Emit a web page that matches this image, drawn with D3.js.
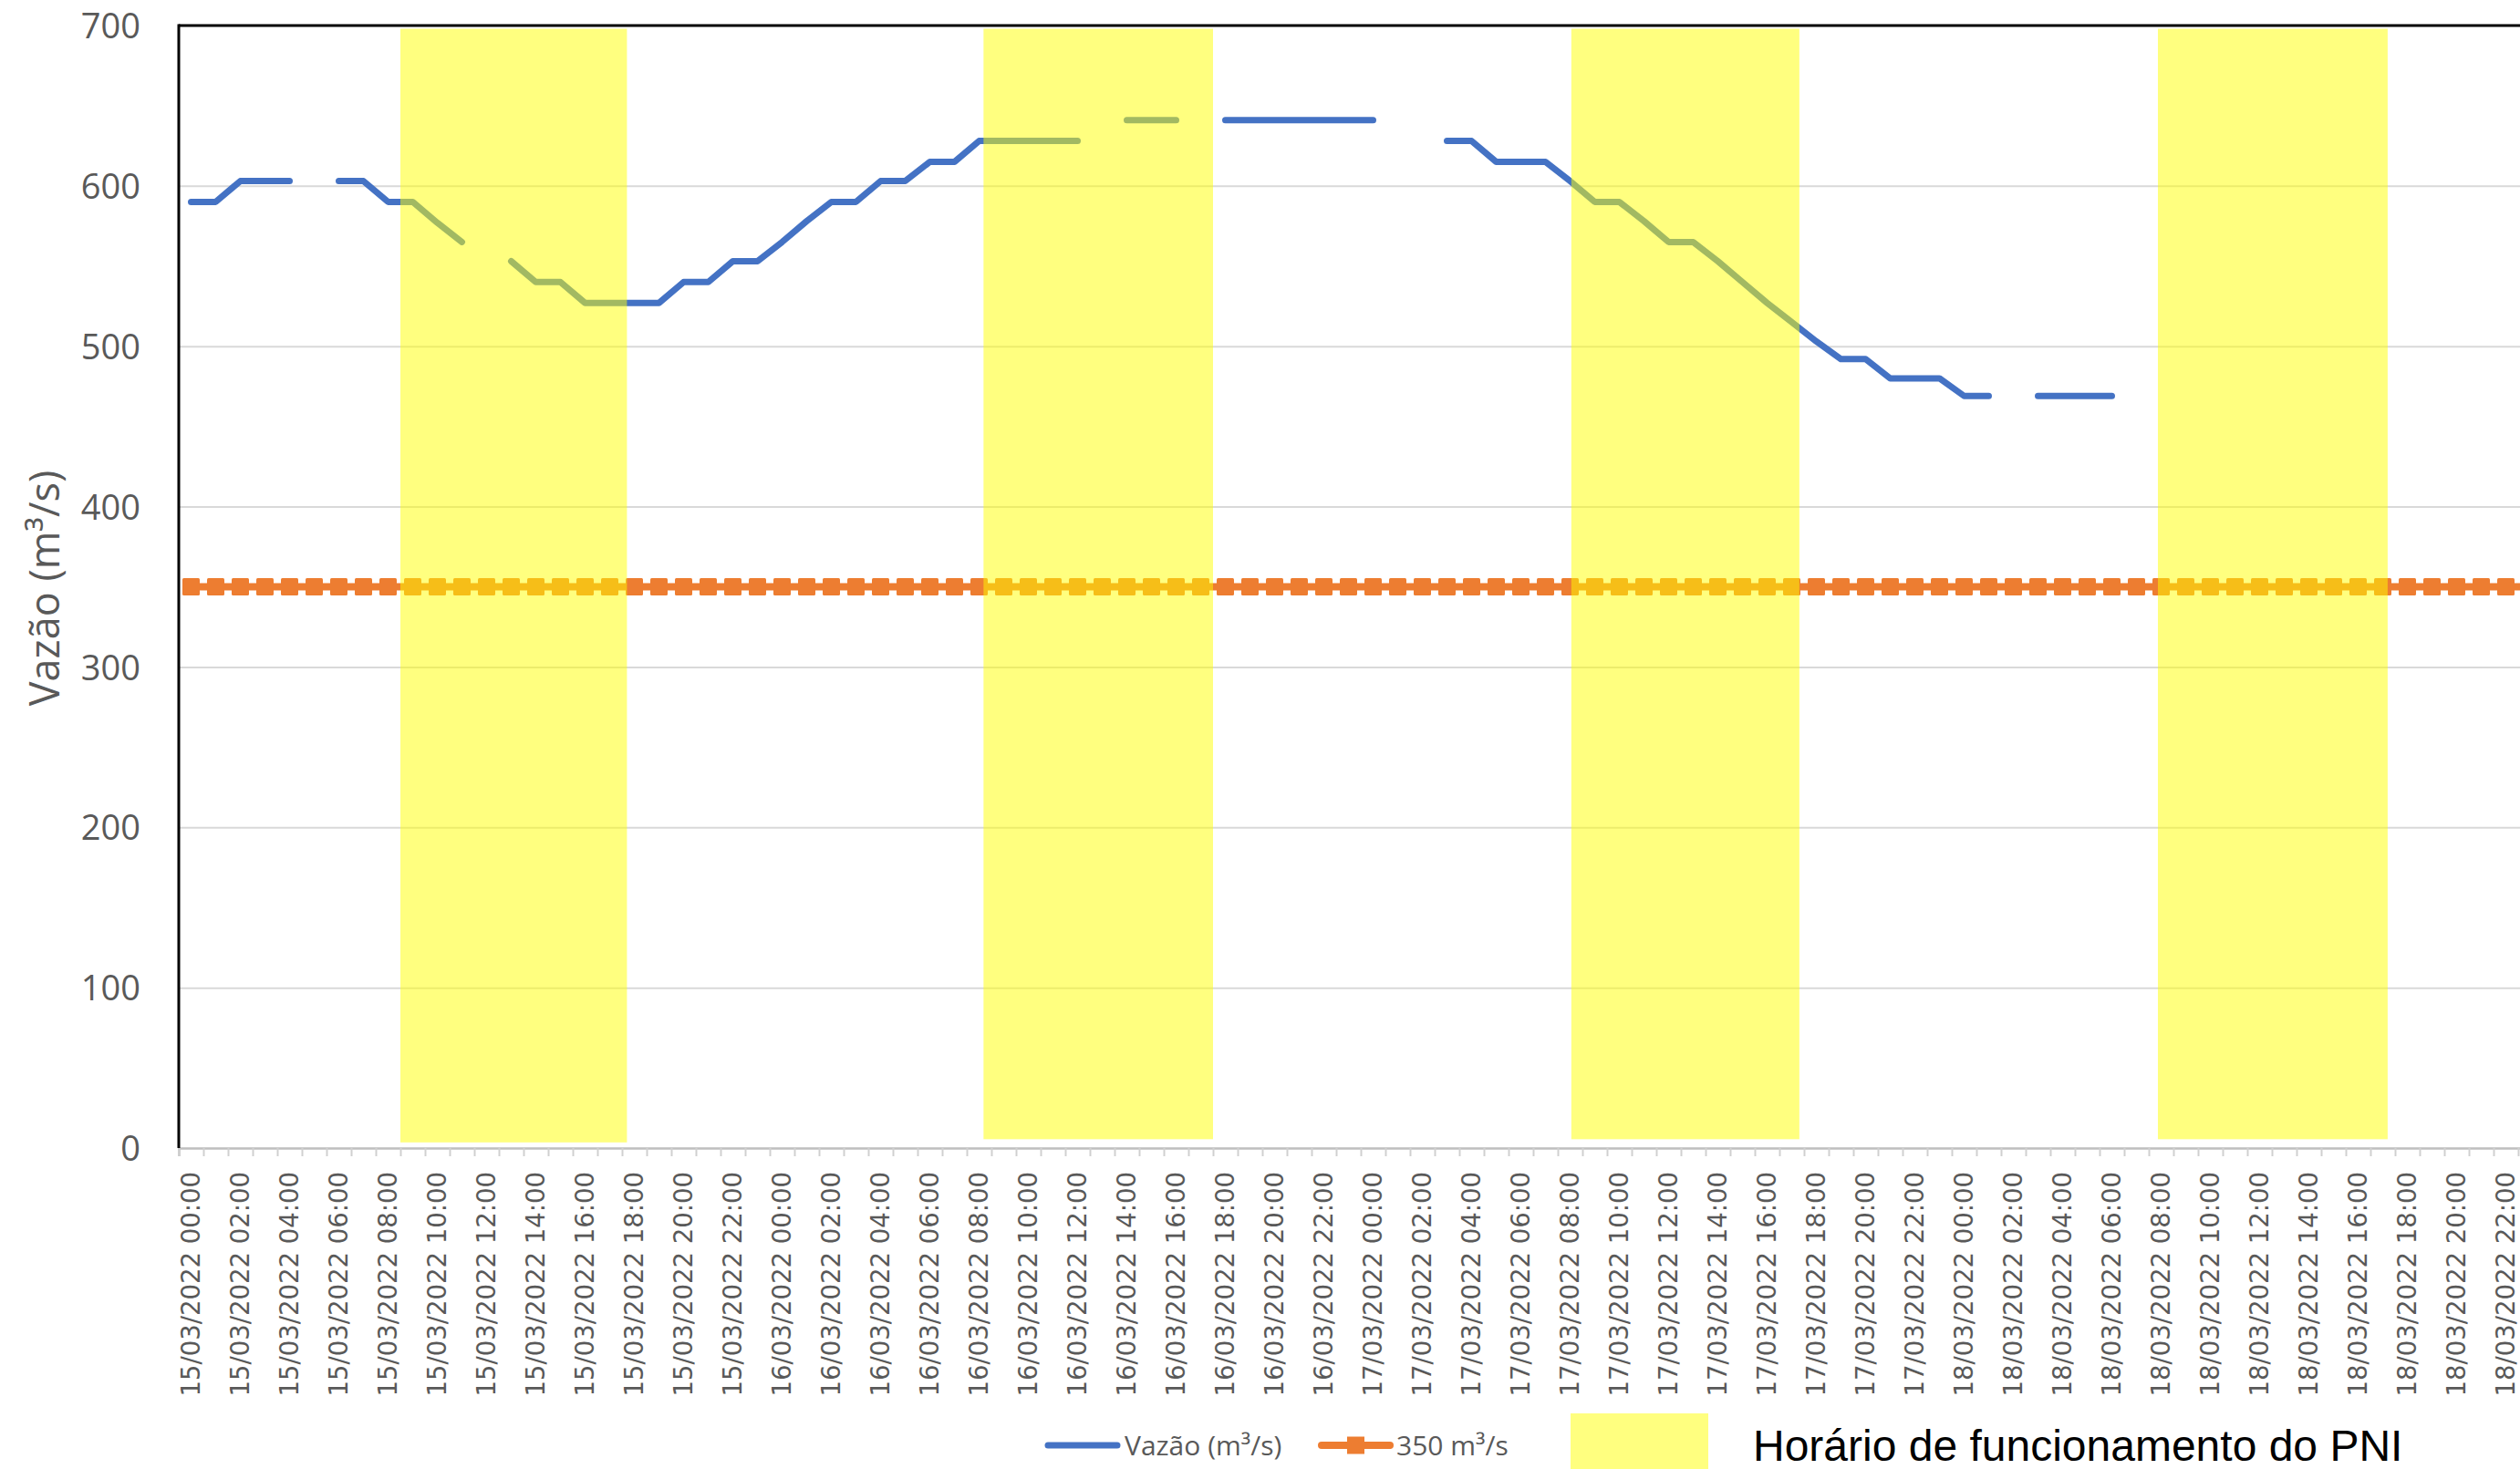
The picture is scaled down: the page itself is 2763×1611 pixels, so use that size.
<!DOCTYPE html>
<html>
<head>
<meta charset="utf-8">
<script src="https://cdn.jsdelivr.net/npm/d3@7"></script>
<style>
  body { margin: 0; background: #fff; }
  svg { display: block; }
</style>
</head>
<body>
<div id="vazao-chart"></div>
<script>
// DATA
// hourly categories, 15/03/2022 00:00 -> 18/03/2022 23:00
let startTime = new Date(2022, 2, 15, 0)
let endTime = new Date(2022, 2, 19, 0)

// Vazão (m³/s), one value per hour, null = no reading
let vazao = [
  590, 590, 603, 603, 603, null, 603, 603, 590, 590, 577, 565,
  null, 553, 540, 540, 527, 527, 527, 527, 540, 540, 553, 553,
  565, 578, 590, 590, 603, 603, 615, 615, 628, 628, 628, 628,
  628, null, 641, 641, 641, null, 641, 641, 641, 641, 641, 641,
  641, null, null, 628, 628, 615, 615, 615, 603, 590, 590, 578,
  565, 565, 553, 540, 527, 515, 503, 492, 492, 480, 480, 480,
  469, 469, null, 469, 469, 469, 469, null, null, null, null, null,
  null, null, null, null, null, null, null, null, null, null, null, null
]
let limite = 350

// PNI operating windows (hours from 15/03 00:00, as drawn by hand)
let pniStart = [9.0, 32.68, 56.55, 80.37]
let pniEnd = [18.2, 42.0, 65.81, 89.7]
let pniTop = 698
let pniBottom = [3.5, 5.5, 5.5, 5.5]

let yTicks = [0, 100, 200, 300, 400, 500, 600, 700]
let legendLabels = ['Vazão (m³/s)', '350 m³/s', 'Horário de funcionamento do PNI']

// CHART SETUP
let width = 2763, height = 1611
let plotLeft = 196, plotTop = 28, plotBottom = 1259, colWidth = 27

let hours = d3.timeHour.range(startTime, endTime)
let formatHour = d3.timeFormat('%d/%m/%Y %H:%M')
let plotRight = plotLeft + hours.length * colWidth

let svg = d3.select('#vazao-chart')
  .append('svg')
  .attr('width', width)
  .attr('height', height)
  .attr('viewBox', '0 0 ' + width + ' ' + height)

let x = d3.scaleBand()
  .domain(d3.range(hours.length))
  .range([plotLeft, plotRight])
  .padding(0)

let xHour = d3.scaleLinear()
  .domain([0, hours.length])
  .range([plotLeft, plotRight])

let y = d3.scaleLinear()
  .domain([0, 700])
  .range([plotBottom, plotTop])

let cx = function (i) { return x(i) + x.bandwidth() / 2 }

// GRIDLINES
svg.append('g')
  .attr('transform', 'translate(' + plotLeft + ',0)')
  .call(d3.axisLeft(y).tickValues(yTicks.slice(1, -1)).tickSize(-(plotRight - plotLeft)).tickFormat(''))
  .call(g => g.select('.domain').remove())
  .selectAll('line')
    .attr('stroke', '#d9d9d9')
    .attr('stroke-width', 2)

// Y LABELS
let yAxis = svg.append('g')
  .attr('transform', 'translate(' + (plotLeft - 42) + ',0)')
  .call(d3.axisLeft(y).tickValues(yTicks).tickSize(0).tickPadding(0))
yAxis.select('.domain').remove()
yAxis.selectAll('text')
  .attr('fill', '#595959')
  .style('font-family', '"Open Sans", "Noto Sans", sans-serif')
  .style('font-size', '38px')
  .attr('dy', '0.36em')

svg.append('text')
  .attr('transform', 'translate(49,645) rotate(-90)')
  .attr('text-anchor', 'middle')
  .attr('dy', '0.35em')
  .attr('fill', '#595959')
  .style('font-family', '"Open Sans", "Noto Sans", sans-serif')
  .style('font-size', '45px')
  .text('Vazão (m³/s)')

// X AXIS (ticks between categories, labels every 2 h)
let xTicks = svg.append('g')
  .attr('transform', 'translate(0,' + plotBottom + ')')
  .call(d3.axisBottom(xHour).tickValues(d3.range(0, hours.length + 1)).tickSize(9).tickFormat(''))
xTicks.select('.domain')
  .attr('stroke', '#bfbfbf')
  .attr('stroke-width', 2.5)
xTicks.selectAll('.tick line')
  .attr('stroke', '#d0d0d0')
  .attr('stroke-width', 2)

let xLabels = svg.append('g')
  .attr('transform', 'translate(0,' + plotBottom + ')')
  .call(d3.axisBottom(x)
    .tickValues(d3.range(0, hours.length, 2))
    .tickSize(0)
    .tickFormat(i => formatHour(hours[i])))
xLabels.select('.domain').remove()
xLabels.selectAll('text')
  .attr('transform', 'rotate(-90)')
  .attr('text-anchor', 'end')
  .attr('x', -26)
  .attr('y', 0)
  .attr('dy', '0.36em')
  .attr('fill', '#595959')
  .style('font-family', '"DejaVu Sans", sans-serif')
  .style('font-size', '27.5px')

// SERIES
let vazaoLine = d3.line()
  .defined(d => d != null)
  .x((d, i) => cx(i))
  .y(d => y(d))

svg.append('path')
  .datum(vazao)
  .attr('d', vazaoLine)
  .attr('fill', 'none')
  .attr('stroke', '#4472c4')
  .attr('stroke-width', 7)
  .attr('stroke-linecap', 'round')
  .attr('stroke-linejoin', 'round')

let limiteData = hours.map(() => limite)

svg.append('path')
  .datum(limiteData)
  .attr('d', d3.line().x((d, i) => cx(i)).y(d => y(d)))
  .attr('fill', 'none')
  .attr('stroke', '#ed7d31')
  .attr('stroke-width', 8)

svg.selectAll('.limite-marker')
  .data(limiteData)
  .enter().append('rect')
    .attr('class', 'limite-marker')
    .attr('x', (d, i) => cx(i) - 9.5)
    .attr('y', d => y(d) - 9.5)
    .attr('width', 19)
    .attr('height', 19)
    .attr('rx', 1.5)
    .attr('fill', '#ed7d31')

// PNI BANDS (half transparent, over the lines)
svg.selectAll('.pni-band')
  .data(pniStart)
  .enter().append('rect')
    .attr('class', 'pni-band')
    .attr('x', d => xHour(d))
    .attr('width', (d, i) => xHour(pniEnd[i]) - xHour(d))
    .attr('y', y(pniTop))
    .attr('height', (d, i) => y(pniBottom[i]) - y(pniTop))
    .attr('fill', '#ffff00')
    .attr('opacity', 0.5)

// FRAME
svg.append('line')
  .attr('x1', plotLeft).attr('x2', plotLeft)
  .attr('y1', y(700) - 1.5).attr('y2', plotBottom)
  .attr('stroke', '#000').attr('stroke-width', 3)
svg.append('line')
  .attr('x1', plotLeft).attr('x2', plotRight)
  .attr('y1', y(700)).attr('y2', y(700))
  .attr('stroke', '#000').attr('stroke-width', 3)

// LEGEND
let legend = svg.append('g')

legend.append('line')
  .attr('x1', 1149).attr('x2', 1225)
  .attr('y1', 1585).attr('y2', 1585)
  .attr('stroke', '#4472c4').attr('stroke-width', 7)
  .attr('stroke-linecap', 'round')
legend.append('text')
  .attr('x', 1233).attr('y', 1585).attr('dy', '0.35em')
  .attr('fill', '#595959')
  .style('font-family', '"Open Sans", "Noto Sans", sans-serif')
  .style('font-size', '30px')
  .text(legendLabels[0])

legend.append('line')
  .attr('x1', 1449).attr('x2', 1524)
  .attr('y1', 1585).attr('y2', 1585)
  .attr('stroke', '#ed7d31').attr('stroke-width', 8)
  .attr('stroke-linecap', 'round')
legend.append('rect')
  .attr('x', 1486.5 - 9.5).attr('y', 1585 - 9.5)
  .attr('width', 19).attr('height', 19)
  .attr('fill', '#ed7d31')
legend.append('text')
  .attr('x', 1531).attr('y', 1585).attr('dy', '0.35em')
  .attr('fill', '#595959')
  .style('font-family', '"Open Sans", "Noto Sans", sans-serif')
  .style('font-size', '30px')
  .text(legendLabels[1])

legend.append('rect')
  .attr('x', 1722).attr('y', 1550)
  .attr('width', 151).attr('height', 70)
  .attr('fill', '#ffff00')
  .attr('opacity', 0.5)
legend.append('text')
  .attr('x', 1922).attr('y', 1602)
  .attr('fill', '#000')
  .style('font-family', '"Liberation Sans", Arial, sans-serif')
  .style('font-size', '48px')
  .text(legendLabels[2])
</script>
</body>
</html>
